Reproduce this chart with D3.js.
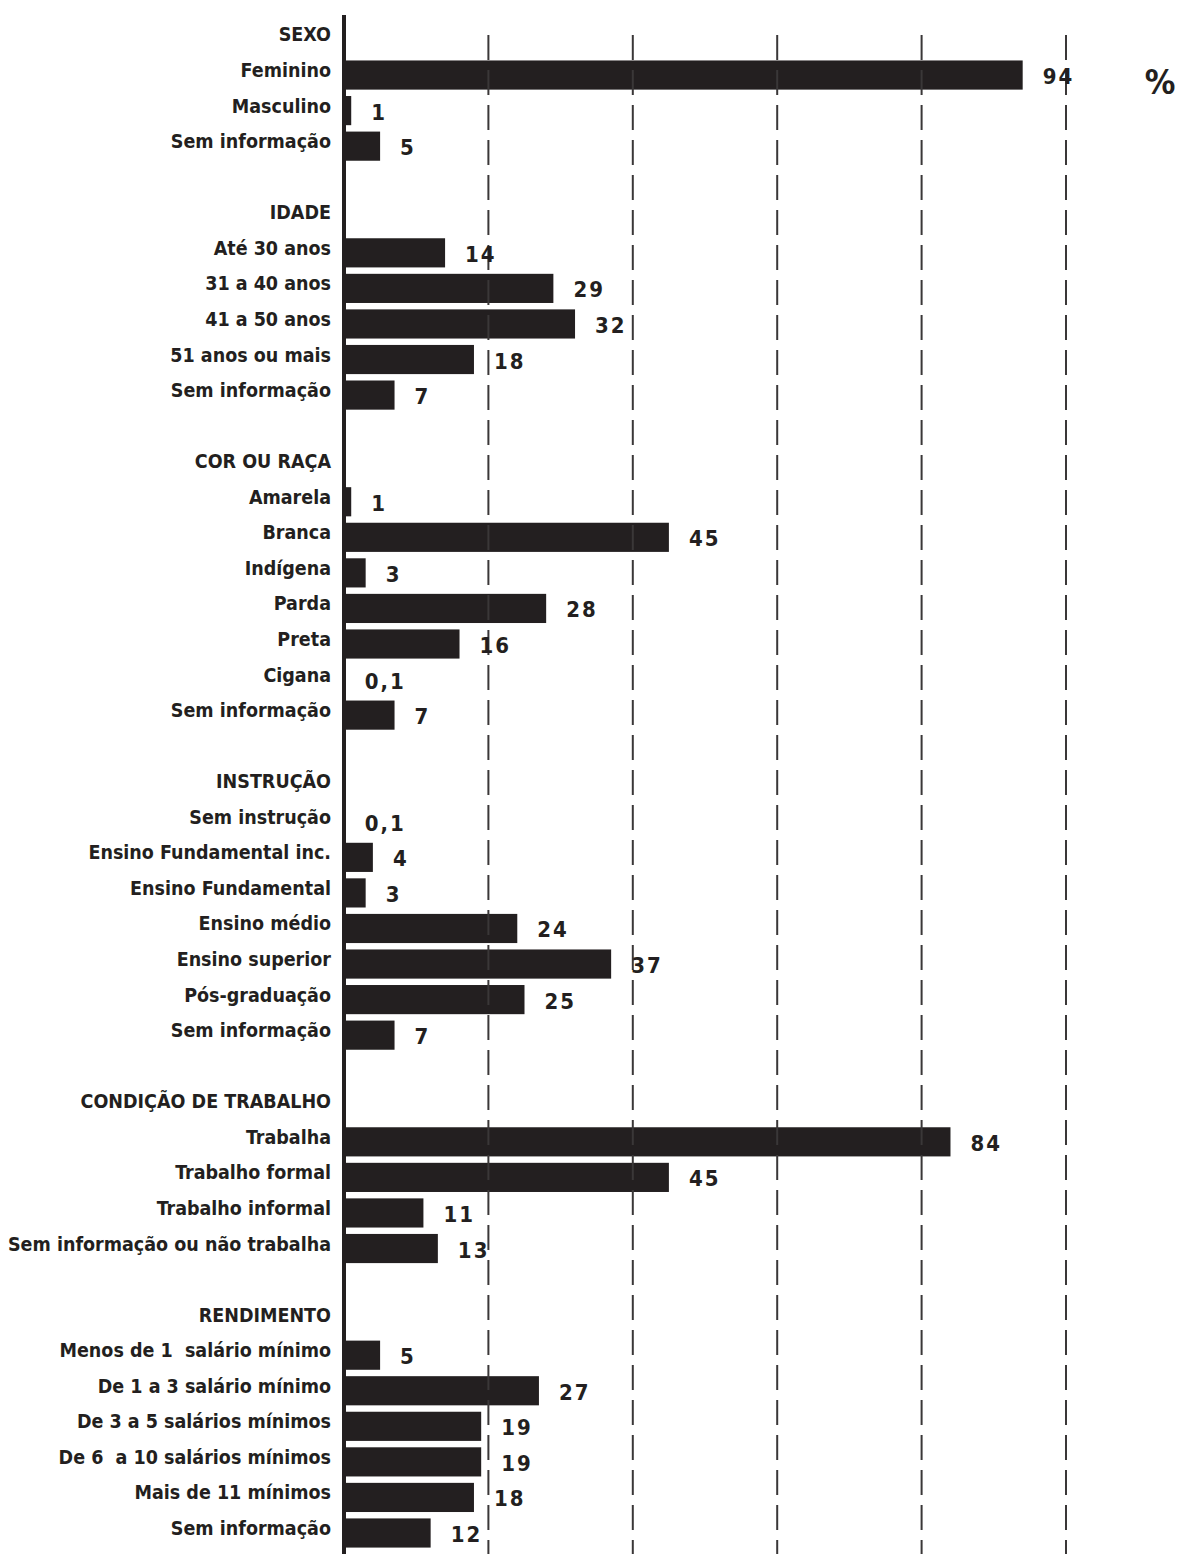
<!DOCTYPE html>
<html>
<head>
<meta charset="utf-8">
<script src="https://cdn.jsdelivr.net/npm/d3@7"></script>
<style>
  html, body { margin: 0; padding: 0; background: #ffffff; }
  svg { display: block; }
  text { white-space: pre; }
</style>
</head>
<body>
<div id="chart"></div>
<script>
// ---------- DATA ----------
const sectionTitles = ["SEXO", "IDADE", "COR OU RAÇA", "INSTRUÇÃO", "CONDIÇÃO DE TRABALHO", "RENDIMENTO"];

const sexoCategories = ["Feminino", "Masculino", "Sem informação"];
const sexoValues = [94, 1, 5];

const idadeCategories = ["Até 30 anos", "31 a 40 anos", "41 a 50 anos", "51 anos ou mais", "Sem informação"];
const idadeValues = [14, 29, 32, 18, 7];

const corCategories = ["Amarela", "Branca", "Indígena", "Parda", "Preta", "Cigana", "Sem informação"];
const corValues = [1, 45, 3, 28, 16, 0.1, 7];

const instrucaoCategories = ["Sem instrução", "Ensino Fundamental inc.", "Ensino Fundamental", "Ensino médio", "Ensino superior", "Pós-graduação", "Sem informação"];
const instrucaoValues = [0.1, 4, 3, 24, 37, 25, 7];

const trabalhoCategories = ["Trabalha", "Trabalho formal", "Trabalho informal", "Sem informação ou não trabalha"];
const trabalhoValues = [84, 45, 11, 13];

const rendimentoCategories = ["Menos de 1  salário mínimo", "De 1 a 3 salário mínimo", "De 3 a 5 salários mínimos", "De 6  a 10 salários mínimos", "Mais de 11 mínimos", "Sem informação"];
const rendimentoValues = [5, 27, 19, 19, 18, 12];

const gridTicks = [20, 40, 60, 80, 100];
const unitLabel = "%";

// ---------- BUILD ROWS ----------
const groups = [
  [sexoCategories, sexoValues],
  [idadeCategories, idadeValues],
  [corCategories, corValues],
  [instrucaoCategories, instrucaoValues],
  [trabalhoCategories, trabalhoValues],
  [rendimentoCategories, rendimentoValues]
];
const rows = [];
groups.forEach(([cats, vals], gi) => {
  if (gi > 0) rows.push({ type: "blank" });
  rows.push({ type: "header", label: sectionTitles[gi] });
  cats.forEach((c, i) => rows.push({ type: "item", label: c, value: vals[i] }));
});
rows.forEach((r, i) => r.idx = i);

// ---------- LAYOUT ----------
const W = 1177, H = 1554;
const ink = "#231f20";
const svg = d3.select("#chart").append("svg").attr("width", W).attr("height", H);

const x = d3.scaleLinear().domain([0, 100]).range([344, 1066]);
const y = d3.scaleBand().domain(d3.range(rows.length))
  .range([21.7, 21.7 + rows.length * 35.56])
  .paddingInner(0.18).paddingOuter(0.09);

const labelFont = "'DejaVu Sans Condensed', 'DejaVu Sans', sans-serif";

// bars
const items = rows.filter(r => r.type === "item");
svg.append("g").selectAll("rect").data(items).join("rect")
  .attr("x", x(0))
  .attr("y", d => y(d.idx))
  .attr("width", d => Math.max(0, x(d.value) - x(0)))
  .attr("height", y.bandwidth())
  .attr("fill", ink);

// gridlines (dashed)
svg.append("g").selectAll("line").data(gridTicks).join("line")
  .attr("x1", d => x(d)).attr("x2", d => x(d))
  .attr("y1", 35).attr("y2", H)
  .attr("stroke", "#3a3738")
  .attr("stroke-width", 2)
  .attr("stroke-dasharray", "25,10");

// axis line
svg.append("line")
  .attr("x1", x(0)).attr("x2", x(0))
  .attr("y1", 15).attr("y2", H)
  .attr("stroke", ink).attr("stroke-width", 4);

// category labels + headers
svg.append("g").selectAll("text").data(rows.filter(r => r.type !== "blank")).join("text")
  .attr("x", 331)
  .attr("y", d => y(d.idx) + y.bandwidth() / 2 + 2)
  .attr("text-anchor", "end")
  .attr("font-family", labelFont)
  .attr("font-weight", "bold")
  .attr("font-size", 19.5)
  .attr("fill", ink)
  .text(d => d.label);

// value labels
const fmt = v => String(v).replace(".", ",");
svg.append("g").selectAll("text").data(items).join("text")
  .attr("x", d => x(d.value) + 20)
  .attr("y", d => y(d.idx) + y.bandwidth() / 2 + 9)
  .attr("font-family", labelFont)
  .attr("font-weight", "bold")
  .attr("font-size", 22)
  .attr("letter-spacing", 2)
  .attr("fill", ink)
  .text(d => fmt(d.value));

// unit
svg.append("text")
  .attr("x", 1160).attr("y", 94)
  .attr("text-anchor", "middle")
  .attr("font-family", labelFont)
  .attr("font-weight", "bold")
  .attr("font-size", 34)
  .attr("fill", ink)
  .text(unitLabel);
</script>
</body>
</html>
